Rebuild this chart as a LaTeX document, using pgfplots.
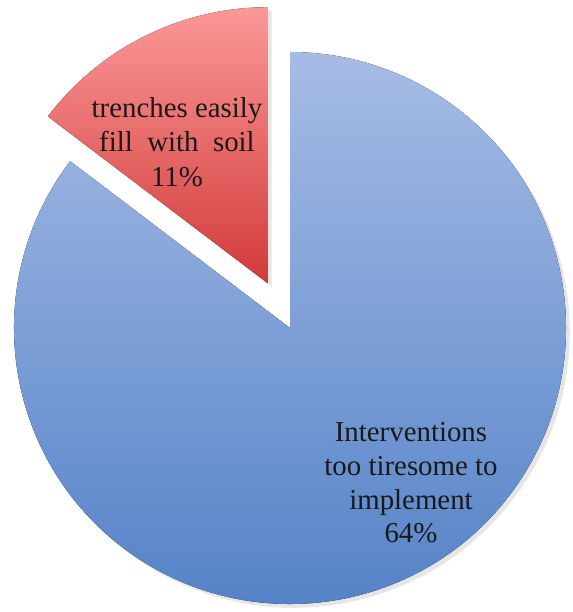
\documentclass[border=0pt]{standalone}
\usepackage{pgfplots}
\pgfplotsset{compat=1.18}
\usepackage{pgfplotstable}
\usepackage{fontspec}
\setmainfont{Liberation Serif}
\usetikzlibrary{shadows}

\pgfplotstableread{
label value
Interventions 64
Trenches 11
}\piedata

\definecolor{bluetop}{RGB}{166,188,229}
\definecolor{bluebot}{RGB}{80,127,198}
\definecolor{redtop}{RGB}{252,152,152}
\definecolor{redbot}{RGB}{210,58,58}

\begin{document}
\begin{tikzpicture}
\pgfplotstablegetelem{0}{value}\of\piedata \let\va\pgfplotsretval
\pgfplotstablegetelem{1}{value}\of\piedata \let\vb\pgfplotsretval
\pgfmathsetmacro\tot{\va+\vb}
\pgfmathsetmacro\angB{360*\vb/\tot}
\pgfmathsetmacro\aEnd{90+\angB}
\pgfmathsetmacro\bis{90+\angB/2}
\def\u{0.014}
\def\cx{290}\def\cy{284}\def\r{276}
\pgfmathsetmacro\R{\r*\u}
\pgfmathsetmacro\ex{\cx+50*cos(\bis)}
\pgfmathsetmacro\ey{\cy+50*sin(\bis)}
\begin{axis}[x=\u cm, y=\u cm, xmin=0, xmax=572, ymin=0, ymax=612,
  hide axis, clip=false]
\coordinate (BL) at (axis cs:0,0);
\coordinate (TR) at (axis cs:572,612);
\fill[top color=bluetop, bottom color=bluebot,
  drop shadow={shadow xshift=1.5pt, shadow yshift=-1.5pt, opacity=0.2, fill=black!50}]
  (axis cs:\cx,\cy) -- ++(\aEnd:\R cm) arc[start angle=\aEnd, end angle=450, radius=\R cm] -- cycle;
\fill[top color=redtop, bottom color=redbot,
  drop shadow={shadow xshift=1.5pt, shadow yshift=-1.5pt, opacity=0.2, fill=black!50}]
  (axis cs:\ex,\ey) -- ++(90:\R cm) arc[start angle=90, end angle=\aEnd, radius=\R cm] -- cycle;
\node[align=center, font=\fontsize{11.5}{13.8}\selectfont, text=black!90]
  at (axis cs:177,470) {trenches easily\\fill\ \ with\ \ soil\\11\%};
\node[align=center, font=\fontsize{11.5}{13.4}\selectfont, text=black!90]
  at (axis cs:411,129) {Interventions\\too tiresome to\\implement\\64\%};
\end{axis}
\pgfresetboundingbox
\path (BL) rectangle (TR);
\end{tikzpicture}
\end{document}
